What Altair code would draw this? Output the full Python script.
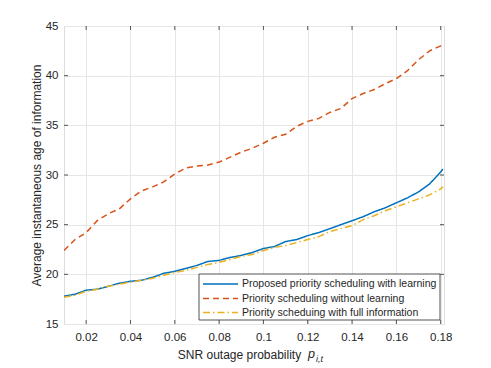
import altair as alt
import pandas as pd

x_vals = [0.010, 0.015, 0.020, 0.025, 0.030, 0.035, 0.040, 0.045, 0.050, 0.055,
          0.060, 0.065, 0.070, 0.075, 0.080, 0.085, 0.090, 0.095, 0.100, 0.105,
          0.110, 0.115, 0.120, 0.125, 0.130, 0.135, 0.140, 0.145, 0.150, 0.155,
          0.160, 0.165, 0.170, 0.175, 0.180, 0.181]

proposed = [17.8, 18.0, 18.4, 18.5, 18.8, 19.1, 19.3, 19.4, 19.7, 20.1,
            20.3, 20.6, 20.9, 21.3, 21.4, 21.7, 21.9, 22.2, 22.6, 22.8,
            23.3, 23.5, 23.9, 24.2, 24.6, 25.0, 25.4, 25.8, 26.3, 26.7,
            27.2, 27.7, 28.3, 29.1, 30.3, 30.6]

no_learning = [22.4, 23.5, 24.2, 25.4, 26.1, 26.6, 27.6, 28.4, 28.8, 29.3,
               30.1, 30.7, 30.9, 31.0, 31.3, 31.8, 32.3, 32.7, 33.2, 33.8,
               34.1, 34.9, 35.4, 35.7, 36.3, 36.7, 37.7, 38.2, 38.6, 39.2,
               39.7, 40.5, 41.6, 42.5, 43.0, 43.3]

full_info = [17.7, 17.9, 18.3, 18.5, 18.8, 19.0, 19.2, 19.4, 19.6, 19.9,
             20.2, 20.4, 20.7, 21.0, 21.2, 21.5, 21.8, 22.0, 22.4, 22.7,
             22.9, 23.2, 23.5, 23.8, 24.3, 24.6, 24.9, 25.5, 25.9, 26.4,
             26.8, 27.2, 27.6, 28.0, 28.6, 28.8]

series_names = ["Proposed priority scheduling with learning",
                "Priority scheduling without learning",
                "Priority scheduing with full information"]
series_colors = ["#0072BD", "#D95319", "#EDB120"]
series_dashes = [[1, 0], [6, 4], [7, 3, 1.5, 3]]

x_ticks = [0.02, 0.04, 0.06, 0.08, 0.10, 0.12, 0.14, 0.16, 0.18]
y_ticks = [15, 20, 25, 30, 35, 40, 45]

W, H = 380, 298
FONT = "Liberation Sans"
TXT = "#262626"

rows = []
for name, vals in zip(series_names, [proposed, no_learning, full_info]):
    for xv, yv in zip(x_vals, vals):
        rows.append({"x": xv, "y": yv, "series": name})
df = pd.DataFrame(rows)

xscale = alt.Scale(domain=[0.01, 0.1815], nice=False, zero=False)
yscale = alt.Scale(domain=[15, 45], nice=False, zero=False)

lines = alt.Chart(df).mark_line(strokeWidth=1.5, clip=True).encode(
    x=alt.X("x:Q", scale=xscale,
            axis=alt.Axis(values=x_ticks, format="~g", grid=True, gridColor="#e6e6e6",
                          ticks=False, domain=False, labelFont=FONT, labelFontSize=11.5,
                          labelColor=TXT, labelPadding=7,
                          title="SNR outage probability", titleFont=FONT, titleFontSize=12,
                          titleFontWeight="normal", titleColor=TXT,
                          titleX=175, titleY=34, titleBaseline="alphabetic")),
    y=alt.Y("y:Q", scale=yscale,
            axis=alt.Axis(values=y_ticks, grid=True, gridColor="#e6e6e6",
                          ticks=False, domain=False, labelFont=FONT, labelFontSize=11.5,
                          labelColor=TXT, labelPadding=6,
                          title="Average instantaneous age of information", titleFont=FONT,
                          titleFontSize=12, titleFontWeight="normal", titleColor=TXT,
                          titleX=-24, titleY=H / 2, titleAngle=-90,
                          titleBaseline="alphabetic", titleAlign="center")),
    color=alt.Color("series:N", scale=alt.Scale(domain=series_names, range=series_colors),
                    legend=None),
    strokeDash=alt.StrokeDash("series:N",
                              scale=alt.Scale(domain=series_names, range=series_dashes),
                              legend=None),
    order=alt.Order("x:Q"),
)

xt = pd.DataFrame({"t": x_ticks})
yt = pd.DataFrame({"t": y_ticks[1:-1]})
tick_style = dict(color="#555555", strokeWidth=1)

xt_bottom = alt.Chart(xt).mark_rule(**tick_style).encode(
    x=alt.X("t:Q", scale=xscale), y=alt.value(H), y2=alt.value(H - 4))
xt_top = alt.Chart(xt).mark_rule(**tick_style).encode(
    x=alt.X("t:Q", scale=xscale), y=alt.value(0), y2=alt.value(4))
yt_left = alt.Chart(yt).mark_rule(**tick_style).encode(
    y=alt.Y("t:Q", scale=yscale), x=alt.value(0), x2=alt.value(4))
yt_right = alt.Chart(yt).mark_rule(**tick_style).encode(
    y=alt.Y("t:Q", scale=yscale), x=alt.value(W), x2=alt.value(W - 4))

sym_df = pd.DataFrame({"s": ["p"]})
p_text = alt.Chart(sym_df).mark_text(font=FONT, fontSize=12.5, fontStyle="italic",
                                     color=TXT, align="left", baseline="alphabetic").encode(
    text="s:N", x=alt.value(244), y=alt.value(332))
sub_df = pd.DataFrame({"s": ["i,t"]})
sub_text = alt.Chart(sub_df).mark_text(font=FONT, fontSize=9, fontStyle="italic",
                                       color=TXT, align="left", baseline="alphabetic").encode(
    text="s:N", x=alt.value(252), y=alt.value(336))

# manual legend (MATLAB style box)
LX0, LX1, LY0, LY1 = 135, 376, 248, 294
row_y = [258, 272.5, 286.5]
box_df = pd.DataFrame({"k": [0]})
legend_box = alt.Chart(box_df).mark_rect(fill="white", stroke="#262626",
                                         strokeWidth=0.8).encode(
    x=alt.value(LX0), x2=alt.value(LX1), y=alt.value(LY0), y2=alt.value(LY1))
legend_layers = [legend_box]
for name, col, dash, ry in zip(series_names, series_colors, series_dashes, row_y):
    one = pd.DataFrame({"series": [name]})
    legend_layers.append(alt.Chart(one).mark_rule(color=col, strokeWidth=1.5,
                                                  strokeDash=dash).encode(
        x=alt.value(139), x2=alt.value(174), y=alt.value(ry)))
    legend_layers.append(alt.Chart(one).mark_text(font=FONT, fontSize=10.5, color=TXT,
                                                  align="left", baseline="middle").encode(
        text="series:N", x=alt.value(178), y=alt.value(ry)))

chart = alt.layer(lines, xt_bottom, xt_top, yt_left, yt_right, p_text, sub_text,
                  *legend_layers).properties(
    width=W, height=H,
    autosize=alt.AutoSizeParams(type="none"),
    padding={"left": 56, "top": 18, "right": 37, "bottom": 41},
).configure_view(stroke="#7a7a7a", strokeWidth=1).configure(background="white")

chart.save("out.html", embed_options={"renderer": "svg", "actions": False})
